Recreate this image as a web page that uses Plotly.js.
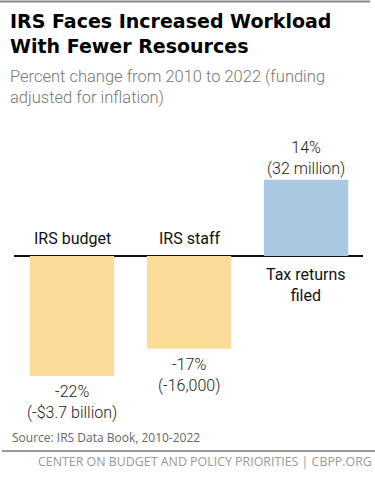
<!DOCTYPE html>
<html><head><meta charset="utf-8">
<script src="https://cdn.plot.ly/plotly-3.0.1.min.js"></script>
<style>html,body{margin:0;padding:0;background:#fff}#c{width:375px;height:487px}</style>
</head><body><div id="c"></div>
<script>
const categories = ["IRS budget", "IRS staff", "Tax returns<br>filed"];
const values = [-22, -17, 14];
const valueLabels = ["-22%<br>(-$3.7 billion)", "-17%<br>(-16,000)", "14%<br>(32 million)"];
const colors = ["#FDDC99", "#FDDC99", "#A9C8E2"];
const xs = [0, 1, 2];

const W = 375, H = 487, mL = 14, mR = 12, mT = 140, mB = 67;
const plotH = H - mT - mB, plotW = W - mL - mR;
const py = p => (H - mB - p) / plotH;   // pixel row -> paper y
const px = p => (p - mL) / plotW;       // pixel col -> paper x

const annotations = [];
xs.forEach((x, i) => {
  const v = values[i];
  annotations.push({
    x: x, y: 0, xref: 'x', yref: 'y', text: categories[i], showarrow: false, borderpad: 0,
    yanchor: v < 0 ? 'bottom' : 'top', yshift: v < 0 ? 7 : -8,
    font: {family: 'Roboto', size: 16, color: '#111'}
  });
  annotations.push({
    x: x, y: v, xref: 'x', yref: 'y', text: valueLabels[i], showarrow: false, borderpad: 0,
    yanchor: v < 0 ? 'top' : 'bottom', yshift: v < 0 ? -5 : 1,
    font: {family: 'Roboto', size: 16, color: '#222', weight: 300}
  });
});
annotations.push({
  xref: 'paper', yref: 'paper', x: px(9), y: py(21), xanchor: 'left', yanchor: 'middle', borderpad: 0,
  text: '<b>IRS Faces Increased Workload</b>', showarrow: false,
  font: {family: 'DejaVu Sans', size: 19, color: '#000'}
});
annotations.push({
  xref: 'paper', yref: 'paper', x: px(9), y: py(46), xanchor: 'left', yanchor: 'middle', borderpad: 0,
  text: '<b>With Fewer Resources</b>', showarrow: false,
  font: {family: 'DejaVu Sans', size: 19, color: '#000'}
});
annotations.push({
  xref: 'paper', yref: 'paper', x: px(8), y: py(65), xanchor: 'left', yanchor: 'top',
  text: 'Percent change from 2010 to 2022 (funding<br>adjusted for inflation)', showarrow: false, align: 'left',
  font: {family: 'Roboto', size: 16.5, color: '#777', weight: 300}
});
annotations.push({
  xref: 'paper', yref: 'paper', x: px(10), y: py(437), xanchor: 'left', yanchor: 'middle',
  text: 'Source: IRS Data Book, 2010-2022', showarrow: false,
  font: {family: 'Open Sans', size: 12, color: '#666'}
});
annotations.push({
  xref: 'paper', yref: 'paper', x: px(374), y: py(461), xanchor: 'right', yanchor: 'middle',
  text: 'CENTER ON BUDGET AND POLICY PRIORITIES | CBPP.ORG', showarrow: false,
  font: {family: 'Open Sans', size: 12.4, color: '#999'}
});

const trace = {
  type: 'bar', x: xs, y: values, marker: {color: colors},
  hoverinfo: 'skip', cliponaxis: false
};

const layout = {
  width: W, height: H,
  margin: {l: mL, r: mR, t: mT, b: mB},
  paper_bgcolor: '#fff', plot_bgcolor: '#fff',
  bargap: 0.28,
  showlegend: false,
  xaxis: {range: [-0.496, 2.487], showticklabels: false, showgrid: false, zeroline: false, showline: false, ticks: '', fixedrange: true},
  yaxis: {range: [-30.09, 21.28], showticklabels: false, showgrid: false, zeroline: true, zerolinecolor: '#111', zerolinewidth: 2, ticks: '', fixedrange: true},
  annotations: annotations,
  shapes: [
    {type: 'line', xref: 'paper', yref: 'paper', x0: px(0), x1: px(370), y0: py(1.5), y1: py(1.5),
     line: {color: '#888', width: 2}},
    {type: 'line', xref: 'paper', yref: 'paper', x0: px(2), x1: px(375), y0: py(451), y1: py(451),
     line: {color: '#777', width: 1.5}}
  ]
};
Plotly.newPlot('c', [trace], layout, {displayModeBar: false, staticPlot: true});
</script></body></html>
